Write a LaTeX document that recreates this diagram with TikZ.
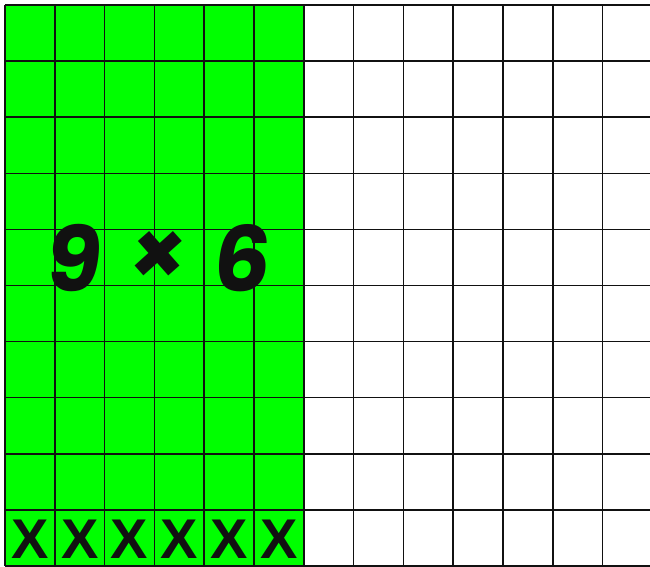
\documentclass[tikz,border=0pt]{standalone}
\usepackage{fontspec}
\setmainfont{Liberation Sans}
\newfontfamily\gothic[FakeSlant=0.12]{Poppins}
\definecolor{cellgreen}{HTML}{00FF00}
\definecolor{ink}{HTML}{111111}
\tikzset{
  gridline/.style ={draw=ink, line width=1.5},
  crossmark/.style={font=\bfseries\fontsize{56}{56}\selectfont, text=ink, inner sep=0pt},
  factlabel/.style={font=\gothic\bfseries\fontsize{90}{90}\selectfont, text=ink, inner sep=0pt}
}

\begin{document}
\begin{tikzpicture}[x=1pt, y=-1pt]
  \useasboundingbox (0,0) rectangle (650,567);
  \begin{scope}
    \clip (0,0) rectangle (650,567);
    % shaded part: 6 columns
    \fill[cellgreen] (5,5) rectangle (303.8,566);
    \foreach \i in {0,...,13}
      \draw[gridline] (5+\i*49.8,5) -- (5+\i*49.8,566);
    \foreach \j in {0,...,10}
      \draw[gridline] (5,5+\j*56.1) -- (660,5+\j*56.1);
  \end{scope}

  \node[factlabel] (nine)  at (71,258)  {9};
  \node[factlabel] (times) at (155,258) {×};
  \node[factlabel] (six)   at (239,258) {6};

  % marks in the bottom row
  \foreach \i in {0,...,5}
    \node[crossmark] (x\i) at (29.9+\i*49.8,539) {X};
\end{tikzpicture}
\end{document}
